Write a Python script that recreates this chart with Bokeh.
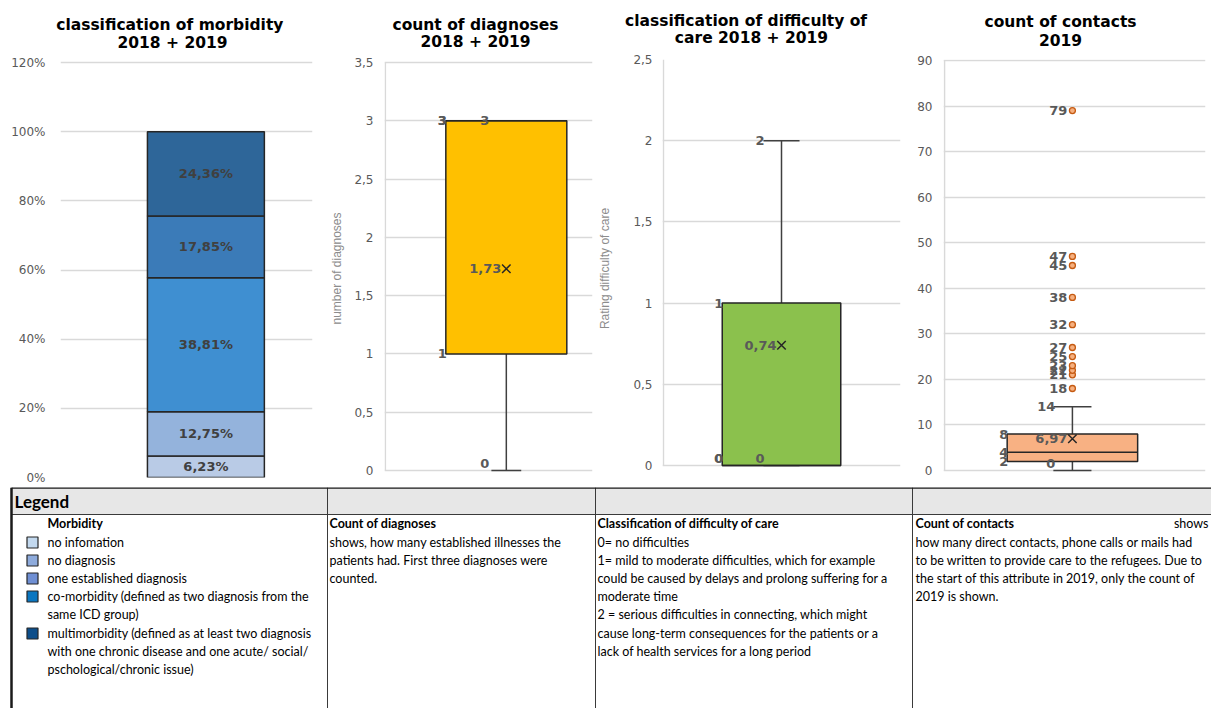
from bokeh.plotting import figure
from bokeh.layouts import row, column
from bokeh.models import Range1d, FixedTicker, ColumnDataSource
from bokeh.core.properties import value
from bokeh.embed import file_html
from bokeh.resources import INLINE
import numpy as np

# ---------------- data ----------------
morb_categories = ["no infomation", "no diagnosis", "one established diagnosis",
                   "co-morbidity", "multimorbidity"]
morb_values = [6.23, 12.75, 38.81, 17.85, 24.36]
morb_colors = ["#b9cbe6", "#94b3dc", "#3f8fd1", "#3b7bb8", "#2e6699"]
morb_ticks = [0, 20, 40, 60, 80, 100, 120]

diag_stats = {"min": 0, "q1": 1, "median": 3, "q3": 3, "max": 3, "mean": 1.73}
diag_outliers = []
diag_ticks = [0, 0.5, 1, 1.5, 2, 2.5, 3, 3.5]

care_stats = {"min": 0, "q1": 0, "median": 0, "q3": 1, "max": 2, "mean": 0.74}
care_outliers = []
care_ticks = [0, 0.5, 1, 1.5, 2, 2.5]

contact_stats = {"min": 0, "q1": 2, "median": 4, "q3": 8, "max": 14, "mean": 6.97}
contact_outliers = [18, 21, 22, 23, 25, 27, 32, 38, 45, 47, 79]
contact_ticks = [0, 10, 20, 30, 40, 50, 60, 70, 80, 90]

titles = [["classification  of morbidity", "2018 + 2019"],
          ["count of diagnoses", "2018 + 2019"],
          ["classification  of difficulty  of", "care 2018 + 2019"],
          ["count of contacts", "2019"]]
y_labels = [None, "number of diagnoses", "Rating difficulty of care", None]

legend_colors = ["#c3d9ef", "#8eabdc", "#6f8fd3", "#0a76c0", "#0d4e8a"]

# ---------------- layout constants ----------------
PANEL_W = [327, 268, 317, 299]
TITLE_H = 52
PANEL_H = 487 - TITLE_H
FRAME_TOP, FRAME_BOTTOM = 59, 477          # shared frame extent (page pixels)
TITLE_POS = [(172, 24, 42), (148, 24, 41), (156, 20, 37), (148, 21, 39)]

TICK_COLOR = "#595959"
GRID_COLOR = "#d9d9d9"
LABEL_COLOR = "#595959"


def fmt(v):
    if float(v).is_integer():
        return str(int(v))
    return f"{v:.2f}".replace(".", ",")


def tick_fmt(v):
    return str(int(v)) if float(v).is_integer() else str(v).replace(".", ",")


def title_fig(width, lines, pos):
    t = figure(width=width, height=TITLE_H, x_range=Range1d(0, width),
               y_range=Range1d(TITLE_H, 0), output_backend="svg", toolbar_location=None,
               x_axis_location=None, y_axis_location=None, min_border=0,
               outline_line_color=None, title=None)
    t.xgrid.visible = False
    t.ygrid.visible = False
    t.text(x=[pos[0]] * len(lines), y=list(pos[1:]), text=lines, text_align="center",
           text_baseline="middle", text_font=value("DejaVu Sans"), text_font_style="bold",
           text_font_size="15.5px", text_color="#000000")
    return t


def y_extent(ymax, px_zero, px_max):
    """range so that 0 sits at px_zero and ymax at px_max inside the shared frame"""
    scale = (px_zero - px_max) / ymax
    return (-(FRAME_BOTTOM - px_zero) / scale, ymax + (px_max - FRAME_TOP) / scale)


def base_fig(width, fl, fr, ymax, px_zero, px_max, ticks, overrides, standoff, x0=0.0):
    y0, y1 = y_extent(ymax, px_zero, px_max)
    p = figure(width=width, height=PANEL_H, x_range=Range1d(x0, 1), y_range=Range1d(y0, y1),
               output_backend="svg", toolbar_location=None, x_axis_location=None,
               min_border_left=fl, min_border_right=width - fr,
               min_border_top=FRAME_TOP - TITLE_H, min_border_bottom=487 - FRAME_BOTTOM,
               outline_line_color=None, title=None)
    ax = p.yaxis[0]
    ax.ticker = FixedTicker(ticks=ticks)
    ax.major_label_overrides = overrides
    ax.major_tick_line_color = None
    ax.minor_tick_line_color = None
    ax.major_tick_out = 0
    ax.major_tick_in = 0
    ax.minor_tick_out = 0
    ax.major_label_standoff = standoff
    ax.major_label_text_font = "DejaVu Sans"
    ax.major_label_text_font_size = "12px"
    ax.major_label_text_color = TICK_COLOR
    ax.axis_line_color = None
    p.xgrid.visible = False
    p.ygrid.grid_line_color = GRID_COLOR
    p.ygrid.grid_line_width = 1.5
    return p


def box_panel(width, fl, fr, px_zero, px_max, stats, outliers, ticks, ymax, color, xc, halfw,
              capw, ylabel, ylabel_standoff, standoff):
    p = base_fig(width, fl, fr, ymax, px_zero, px_max, ticks,
                 {t: tick_fmt(t) for t in ticks}, standoff, x0=-0.004)
    # left frame line from 0 to the top tick
    p.segment(x0=[0], x1=[0], y0=[0], y1=[ymax], line_color=GRID_COLOR, line_width=1.5)
    if ylabel:
        p.yaxis.axis_label = ylabel
        p.yaxis.axis_label_text_font = "Liberation Sans"
        p.yaxis.axis_label_text_font_size = "12px"
        p.yaxis.axis_label_text_font_style = "normal"
        p.yaxis.axis_label_text_color = "#8c8c8c"
        p.yaxis.axis_label_standoff = ylabel_standoff
    # whiskers and caps
    p.segment(x0=[xc, xc], x1=[xc, xc], y0=[stats["q3"], stats["q1"]],
              y1=[stats["max"], stats["min"]], line_color="#404040", line_width=1.5)
    p.segment(x0=[xc - capw, xc - capw], x1=[xc + capw, xc + capw],
              y0=[stats["max"], stats["min"]], y1=[stats["max"], stats["min"]],
              line_color="#404040", line_width=1.5)
    # box and median
    p.quad(left=[xc - halfw], right=[xc + halfw], bottom=[stats["q1"]], top=[stats["q3"]],
           fill_color=color, line_color="#262626", line_width=1.5)
    p.segment(x0=[xc - halfw], x1=[xc + halfw], y0=[stats["median"]], y1=[stats["median"]],
              line_color="#262626", line_width=1.5)
    # outliers
    if outliers:
        p.scatter(x=[xc] * len(outliers), y=outliers, marker="circle", size=6,
                  fill_color="#f6b07f", line_color="#c55a11", line_width=1.3)
    # mean
    p.scatter(x=[xc], y=[stats["mean"]], marker="x", size=12, line_color="#262626",
              line_width=1.5)
    # data labels
    xs, ys, txt, xo = [], [], [], []
    for k in ["q1", "median", "q3"]:
        xs.append(xc - halfw); ys.append(stats[k]); txt.append(fmt(stats[k])); xo.append(1)
    for k in ["min", "max"]:
        xs.append(xc); ys.append(stats[k]); txt.append(fmt(stats[k])); xo.append(-17)
    xs.append(xc); ys.append(stats["mean"]); txt.append(fmt(stats["mean"])); xo.append(-5)
    for o in outliers:
        xs.append(xc); ys.append(o); txt.append(fmt(o)); xo.append(-5)
    yo = [-7 if v == 0 else 0 for v in ys]
    src = ColumnDataSource(dict(x=xs, y=ys, text=txt, xo=xo, yo=yo))
    p.text(x="x", y="y", text="text", x_offset="xo", y_offset="yo", source=src,
           text_align="right", text_baseline="middle", text_font=value("DejaVu Sans"),
           text_font_style="bold", text_font_size="13px", text_color=LABEL_COLOR)
    return p


# ---------------- panel 1: stacked bar ----------------
p1 = base_fig(PANEL_W[0], 60, 312, 120, 477, 62, morb_ticks,
              {t: f"{t}%" for t in morb_ticks}, 15)
bar_xc, bar_hw = 0.577, 0.232
tops = np.cumsum(morb_values)
bottoms = tops - np.array(morb_values)
p1.quad(left=[bar_xc - bar_hw] * len(morb_values), right=[bar_xc + bar_hw] * len(morb_values),
        bottom=bottoms, top=tops, fill_color=morb_colors, line_color="#262626", line_width=1.5)
p1.text(x=[bar_xc] * len(morb_values), y=(bottoms + tops) / 2,
        text=[f"{v:.2f}%".replace(".", ",") for v in morb_values],
        text_align="center", text_baseline="middle", text_font=value("DejaVu Sans"),
        text_font_style="bold", text_font_size="13px", text_color="#404040")

# ---------------- panels 2-4: box plots ----------------
p2 = box_panel(PANEL_W[1], 56, 265, 470, 62, diag_stats, diag_outliers, diag_ticks, 3.5,
               "#ffc000", 0.584, 0.292, 0.072, y_labels[1], 7, 11)
p3 = box_panel(PANEL_W[2], 67, 305, 465, 59, care_stats, care_outliers, care_ticks, 2.5,
               "#8bc14d", 0.498, 0.25, 0.076, y_labels[2], 18, 10)
p4 = box_panel(PANEL_W[3], 31, 293, 470, 60, contact_stats, contact_outliers,
               contact_ticks, 90, "#f8b183", 0.49, 0.25, 0.073, y_labels[3], 0, 11)

title_figs = [title_fig(w, lines, pos) for w, lines, pos in zip(PANEL_W, titles, TITLE_POS)]

# ---------------- legend table ----------------
legend_title = "Legend"
col_heads = ["Morbidity", "Count of diagnoses", "Classification of difficulty of care",
             "Count of contacts"]
morb_legend_lines = ["no infomation", "no diagnosis", "one established diagnosis",
                     "co-morbidity  (defined as two diagnosis from the", "same ICD group)",
                     "multimorbidity (defined as at least two diagnosis",
                     "with one chronic disease and one acute/ social/",
                     "pschological/chronic issue)"]
diag_legend_lines = ["shows, how many established illnesses the",
                     "patients had. First three diagnoses were", "counted."]
care_legend_lines = ["0= no difficulties",
                     "1= mild to moderate difficulties, which for example",
                     "could be caused by delays and prolong suffering for a",
                     "moderate time",
                     "2 = serious difficulties in connecting, which might",
                     "cause long-term consequences for the patients or a",
                     "lack of health services for a long period"]
contact_head_tail = "shows"
contact_legend_lines = ["how many direct contacts, phone calls or mails had",
                        "to be written to provide care to the refugees. Due to",
                        "the start of this attribute in 2019, only the count of",
                        "2019 is shown."]

leg = figure(width=1211, height=221, x_range=Range1d(0, 1211), y_range=Range1d(708, 487),
             output_backend="svg", toolbar_location=None, x_axis_location=None,
             y_axis_location=None, min_border=0, outline_line_color=None, title=None)
leg.xgrid.visible = False
leg.ygrid.visible = False

LT, LH, LB = 487, 514, 708
col_x = [11, 327, 595, 912]
leg.quad(left=[11], right=[1211], top=[LT], bottom=[LH], fill_color="#e7e7e7", line_color=None)
leg.segment(x0=col_x[1:], x1=col_x[1:], y0=[LT] * 3, y1=[LB] * 3, line_color="#3a3a3a",
            line_width=1)
leg.segment(x0=[11], x1=[1211], y0=[LH], y1=[LH], line_color="#3a3a3a", line_width=1)
leg.segment(x0=[11, 11], x1=[1211, 11], y0=[LT, LT], y1=[LT, LB], line_color="#1a1a1a",
            line_width=2.5)

TF = value("Lato")
FS = "12.5px"
leg.text(x=[14], y=[501], text=[legend_title], text_font=TF, text_font_style="bold",
         text_font_size="17px", text_color="black", text_baseline="middle")
head_x = [47, 329, 597, 915]
leg.text(x=head_x, y=[523] * 4, text=col_heads, text_font=TF, text_font_style="bold",
         text_font_size=FS, text_color="black", text_baseline="middle")
leg.text(x=[1208], y=[523], text=[contact_head_tail], text_font=TF, text_font_size=FS,
         text_color="black", text_baseline="middle", text_align="right")

line_y = [542, 560, 578, 596, 614, 633, 651, 669]


def add_lines(x, lines):
    leg.text(x=[x] * len(lines), y=line_y[:len(lines)], text=lines, text_font=TF,
             text_font_size=FS, text_color="black", text_baseline="middle")


add_lines(head_x[0], morb_legend_lines)
add_lines(head_x[1], diag_legend_lines)
add_lines(head_x[2], care_legend_lines)
add_lines(head_x[3], contact_legend_lines)
sq_rows = [0, 1, 2, 3, 5]
leg.rect(x=[32] * 5, y=[line_y[i] for i in sq_rows], width=11, height=11,
         fill_color=legend_colors, line_color="#262626", line_width=1.2)

layout = column(row(*title_figs), row(p1, p2, p3, p4), leg)
open("out.html", "w").write(file_html(layout, INLINE))
